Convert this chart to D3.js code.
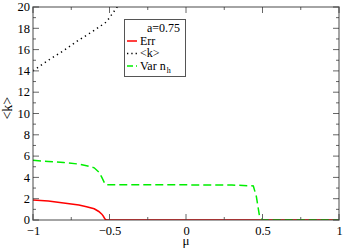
<!DOCTYPE html>
<html>
<head>
<meta charset="utf-8">
<script src="https://cdn.jsdelivr.net/npm/d3@7"></script>
<style>
  body { margin: 0; background: #fff; }
</style>
</head>
<body>
<div id="chart"></div>
<script>
// values
var errMu = [-1, -0.9, -0.8, -0.7, -0.65, -0.6, -0.57, -0.55, -0.54, -0.53, -0.52, 1];
var errVal = [1.88, 1.78, 1.6, 1.4, 1.25, 1.05, 0.8, 0.55, 0.35, 0.1, 0, 0];

var kMu = [-1, -0.9, -0.8, -0.7, -0.6, -0.52, -0.5, -0.45, -0.42];
var kVal = [14.0, 15.0, 15.9, 16.9, 17.8, 18.6, 19.0, 20.0, 20.6];

var varMu = [-1, -0.9, -0.8, -0.7, -0.65, -0.6, -0.57, -0.55, -0.53, -0.52, -0.4, 0, 0.3, 0.44, 0.46, 0.48, 0.5, 1];
var varVal = [5.6, 5.5, 5.4, 5.25, 5.1, 4.9, 4.5, 4.0, 3.4, 3.3, 3.3, 3.3, 3.28, 3.2, 2.2, 0.4, 0, 0];

var xTicks = [-1, -0.5, 0, 0.5, 1];
var yTicks = [0, 2, 4, 6, 8, 10, 12, 14, 16, 18, 20];

var legendTitle = "a=0.75";
var legendNames = ["Err", "<k>", "Var n"];

var FONT = '"Liberation Serif", "Times New Roman", "DejaVu Serif", serif';
var width = 343, height = 249;
var margin = { top: 7, right: 4, bottom: 29, left: 33 };

var svg = d3.select('#chart')
  .append('svg')
  .attr('width', width)
  .attr('height', height)
  .attr('font-family', FONT);

var x = d3.scaleLinear().domain([-1, 1]).range([margin.left, width - margin.right]);
var y = d3.scaleLinear().domain([0, 20]).range([height - margin.bottom, margin.top]);

svg.append('clipPath').attr('id', 'clip')
  .append('rect')
  .attr('x', x(-1)).attr('y', y(20))
  .attr('width', x(1) - x(-1)).attr('height', y(0) - y(20));

var line = d3.line()
  .x(function(d) { return x(d[0]); })
  .y(function(d) { return y(d[1]); });

function zip(a, b) {
  return a.map(function(v, i) { return [v, b[i]]; });
}

var plot = svg.append('g').attr('clip-path', 'url(#clip)');

plot.append('path')
  .attr('d', line(zip(errMu, errVal)))
  .attr('fill', 'none')
  .attr('stroke', '#ff0000')
  .attr('stroke-width', 1.5);

plot.append('path')
  .attr('d', line(zip(kMu, kVal)))
  .attr('fill', 'none')
  .attr('stroke', '#000')
  .attr('stroke-width', 1.5)
  .attr('stroke-dasharray', '1.3,3.5');

plot.append('path')
  .attr('d', line(zip(varMu, varVal)))
  .attr('fill', 'none')
  .attr('stroke', '#00ee00')
  .attr('stroke-width', 1.5)
  .attr('stroke-dasharray', '8,4');

// axes: tick labels from d3 axes, tick marks inward on all four sides
var gx = svg.append('g').attr('transform', 'translate(0,' + y(0) + ')')
  .call(d3.axisBottom(x).tickValues(xTicks).tickSize(0).tickFormat(d3.format('')));
var gy = svg.append('g').attr('transform', 'translate(' + x(-1) + ',0)')
  .call(d3.axisLeft(y).tickValues(yTicks).tickSize(0));

[gx, gy].forEach(function(g) {
  g.attr('font-family', FONT);
  g.select('.domain').remove();
  g.selectAll('text')
    .attr('fill', '#000')
    .attr('font-size', 12.5);
});
gx.selectAll('text').attr('dy', '0.71em').attr('y', 6);
gy.selectAll('text').attr('x', -3).attr('dy', '0.3em');

var ticks = svg.append('g').attr('stroke', '#666').attr('stroke-width', 1);
d3.range(-1, 1.001, 0.25).forEach(function(v) {
  var len = Math.abs(v * 2 - Math.round(v * 2)) < 1e-6 ? 6 : 3;
  ticks.append('line').attr('x1', x(v)).attr('x2', x(v)).attr('y1', y(0)).attr('y2', y(0) - len);
  ticks.append('line').attr('x1', x(v)).attr('x2', x(v)).attr('y1', y(20)).attr('y2', y(20) + len);
});
d3.range(0, 20.001, 1).forEach(function(v) {
  var len = v % 2 === 0 ? 6 : 3;
  ticks.append('line').attr('x1', x(-1)).attr('x2', x(-1) + len).attr('y1', y(v)).attr('y2', y(v));
  ticks.append('line').attr('x1', x(1)).attr('x2', x(1) - len).attr('y1', y(v)).attr('y2', y(v));
});

svg.append('rect')
  .attr('x', x(-1)).attr('y', y(20))
  .attr('width', x(1) - x(-1)).attr('height', y(0) - y(20))
  .attr('fill', 'none')
  .attr('stroke', '#222')
  .attr('stroke-opacity', 0.55)
  .attr('stroke-width', 1.5);

// axis titles
svg.append('text')
  .attr('x', x(0)).attr('y', 245)
  .attr('text-anchor', 'middle')
  .attr('font-size', 13)
  .text('\u03bc');

svg.append('text')
  .attr('transform', 'translate(12,' + y(10.5) + ') rotate(-90)')
  .attr('text-anchor', 'middle')
  .attr('font-size', 14)
  .text('<k>');

// legend
var lg = svg.append('g');
lg.append('rect')
  .attr('x', 124.5).attr('y', 19.5)
  .attr('width', 61).attr('height', 57)
  .attr('fill', '#fff')
  .attr('stroke', '#555');
lg.append('text')
  .attr('x', 147).attr('y', 32)
  .attr('font-size', 12)
  .text(legendTitle);

var legStyles = [
  { color: '#ff0000', dash: null },
  { color: '#000', dash: '1.3,3' },
  { color: '#00ee00', dash: '6,3' }
];
legendNames.forEach(function(name, i) {
  var yy = 41 + i * 12.5;
  lg.append('line')
    .attr('x1', 127).attr('x2', 137)
    .attr('y1', yy).attr('y2', yy)
    .attr('stroke', legStyles[i].color)
    .attr('stroke-width', 1.5)
    .attr('stroke-dasharray', legStyles[i].dash);
  var t = lg.append('text')
    .attr('x', 140).attr('y', yy + 3.5)
    .attr('font-size', 12)
    .text(name);
  if (i === 2) {
    t.append('tspan').attr('dx', 1).attr('dy', 3).attr('font-size', 8).text('h');
  }
});
</script>
</body>
</html>
